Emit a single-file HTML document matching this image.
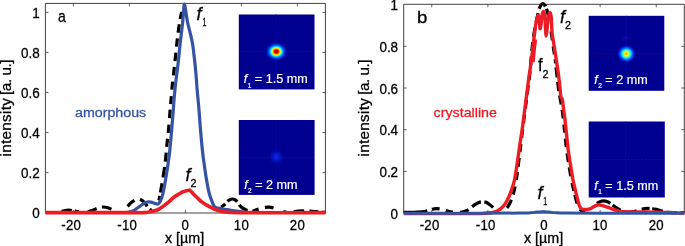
<!DOCTYPE html>
<html lang="en"><head><meta charset="utf-8"><title>Focal intensity profiles: amorphous vs crystalline</title>
<style>html,body{margin:0;padding:0;background:#fff;}body{width:685px;height:246px;overflow:hidden;}svg{display:block;}text{font-family:'Liberation Sans', sans-serif;stroke:#000;stroke-width:.3px;}.w{stroke:#fff;stroke-width:.2px;}.bl{stroke:#3553a4;}.rd{stroke:#ec1c24;}</style></head><body>
<svg width="685" height="246" viewBox="0 0 685 246" font-family='"Liberation Sans", sans-serif' fill="#000">
<rect width="685" height="246" fill="#ffffff"/>
<g id="panel-a">
<path d="M45.40 213 V3.40 H325.40 V213 Z" fill="none" stroke="#231f20" stroke-width="0.85"/>
<path d="M73.40 3.40v3.00M73.40 213v-3.00M129.40 3.40v3.00M129.40 213v-3.00M185.40 3.40v3.00M185.40 213v-3.00M241.40 3.40v3.00M241.40 213v-3.00M297.40 3.40v3.00M297.40 213v-3.00M45.40 172.64h3.00M325.40 172.64h-3.00M45.40 132.58h3.00M325.40 132.58h-3.00M45.40 92.52h3.00M325.40 92.52h-3.00M45.40 52.46h3.00M325.40 52.46h-3.00M45.40 12.40h3.00M325.40 12.40h-3.00" fill="none" stroke="#231f20" stroke-width="0.7"/>
<text transform="translate(71.20 229.85) scale(0.905 1)" text-anchor="middle" font-size="14.6" letter-spacing="0.28">-20</text>
<text transform="translate(127.20 229.85) scale(0.905 1)" text-anchor="middle" font-size="14.6" letter-spacing="0.28">-10</text>
<text transform="translate(185.40 229.85) scale(0.905 1)" text-anchor="middle" font-size="14.6" letter-spacing="0.28">0</text>
<text transform="translate(241.40 229.85) scale(0.905 1)" text-anchor="middle" font-size="14.6" letter-spacing="0.28">10</text>
<text transform="translate(297.40 229.85) scale(0.905 1)" text-anchor="middle" font-size="14.6" letter-spacing="0.28">20</text>
<text transform="translate(39.80 218.20) scale(0.915 1)" text-anchor="end" font-size="14.7">0</text>
<text transform="translate(39.80 178.14) scale(0.915 1)" text-anchor="end" font-size="14.7">0.2</text>
<text transform="translate(39.80 138.08) scale(0.915 1)" text-anchor="end" font-size="14.7">0.4</text>
<text transform="translate(39.80 98.02) scale(0.915 1)" text-anchor="end" font-size="14.7">0.6</text>
<text transform="translate(39.80 57.96) scale(0.915 1)" text-anchor="end" font-size="14.7">0.8</text>
<text transform="translate(39.80 17.90) scale(0.915 1)" text-anchor="end" font-size="14.7">1</text>
<g transform="translate(10.80 156.40) rotate(-90)" font-size="15.25"><text x="0" y="0" textLength="58.2" lengthAdjust="spacing">intensity</text><text x="96.90" y="0" text-anchor="end" textLength="35.4" lengthAdjust="spacing">[a. u.]</text></g>
<text x="184.6" y="242.6" text-anchor="middle" font-size="14.3">x [µm]</text>
<text transform="translate(58.0 21.6) scale(0.85 1)" font-size="16.5">a</text>
<text transform="translate(75 116.5) scale(1 0.9)" font-size="14.25" fill="#3553a4" class="bl">amorphous</text>
<rect x="238.80" y="14.50" width="75.70" height="74.90" fill="#000090"/>
<path d="M276.30 14.50V89.40" stroke="#0707a2" stroke-width="0.9" fill="none"/>

<path d="M238.80 51.50H314.50" stroke="#b00040" stroke-opacity="0.38" stroke-width="0.8" stroke-dasharray="2 1.5" fill="none"/>
<defs><radialGradient id="g1"><stop offset="0.000" stop-color="#8e0000" stop-opacity="1"/><stop offset="0.100" stop-color="#c00000" stop-opacity="1"/><stop offset="0.190" stop-color="#f01800" stop-opacity="1"/><stop offset="0.260" stop-color="#ff7800" stop-opacity="1"/><stop offset="0.330" stop-color="#fff000" stop-opacity="1"/><stop offset="0.410" stop-color="#86ff78" stop-opacity="1"/><stop offset="0.490" stop-color="#00e4ff" stop-opacity="1"/><stop offset="0.610" stop-color="#0068ff" stop-opacity="1"/><stop offset="0.780" stop-color="#0020d0" stop-opacity="0.8"/><stop offset="1.000" stop-color="#000090" stop-opacity="0"/></radialGradient></defs>
<ellipse cx="276.30" cy="51.50" rx="11.80" ry="10.00" fill="url(#g1)"/>
<text x="243.80" y="83.30" font-size="12.6" fill="#ffffff" class="w"><tspan font-style="italic">f</tspan><tspan font-size="6.5" dx="0.4" dy="4.2">1</tspan><tspan dy="-4.2"> = 1.5 mm</tspan></text>
<rect x="238.80" y="120.00" width="75.80" height="74.90" fill="#000090"/>
<path d="M276.30 120.00V194.90" stroke="#0707a2" stroke-width="0.9" fill="none"/>

<path d="M238.80 157.40H314.60" stroke="#b00040" stroke-opacity="0.38" stroke-width="0.8" stroke-dasharray="2 1.5" fill="none"/>
<defs><radialGradient id="g2"><stop offset="0.000" stop-color="#0a2cf4" stop-opacity="0.95"/><stop offset="0.350" stop-color="#0820dc" stop-opacity="0.8"/><stop offset="0.700" stop-color="#0410b4" stop-opacity="0.45"/><stop offset="1.000" stop-color="#000090" stop-opacity="0"/></radialGradient></defs>
<ellipse cx="276.30" cy="156.80" rx="8.50" ry="8.50" fill="url(#g2)"/>
<text x="244.20" y="188.90" font-size="12.6" fill="#ffffff" class="w"><tspan font-style="italic">f</tspan><tspan font-size="6.5" dx="0.4" dy="4.2">2</tspan><tspan dy="-4.2"> = 2 mm</tspan></text>
<path d="M45.40 212.40C47.00 212.38 52.23 212.48 55.00 212.30C57.77 212.12 59.75 211.65 62.00 211.30C64.25 210.95 66.33 210.22 68.50 210.20C70.67 210.18 72.42 210.83 75.00 211.20C77.58 211.57 81.17 212.52 84.00 212.40C86.83 212.28 89.67 211.23 92.00 210.50C94.33 209.77 96.17 208.58 98.00 208.00C99.83 207.42 101.33 207.03 103.00 207.00C104.67 206.97 106.17 207.25 108.00 207.80C109.83 208.35 112.00 209.60 114.00 210.30C116.00 211.00 118.33 212.02 120.00 212.00C121.67 211.98 122.70 211.18 124.00 210.20C125.30 209.22 126.63 207.33 127.80 206.10C128.97 204.87 129.95 203.72 131.00 202.80C132.05 201.88 133.10 201.23 134.10 200.60C135.10 199.97 136.02 199.22 137.00 199.00C137.98 198.78 138.85 198.83 140.00 199.30C141.15 199.77 142.82 200.80 143.90 201.80C144.98 202.80 145.65 204.13 146.50 205.30C147.35 206.47 148.17 208.02 149.00 208.80C149.83 209.58 150.67 210.03 151.50 210.00C152.33 209.97 153.22 209.35 154.00 208.60C154.78 207.85 155.53 206.63 156.20 205.50C156.87 204.37 157.48 202.97 158.00 201.80C158.52 200.63 158.77 200.80 159.30 198.50C159.83 196.20 160.43 192.42 161.20 188.00C161.97 183.58 163.15 177.00 163.90 172.00C164.65 167.00 165.17 162.83 165.70 158.00C166.23 153.17 166.60 148.00 167.10 143.00C167.60 138.00 168.25 132.83 168.70 128.00C169.15 123.17 169.42 118.58 169.80 114.00C170.18 109.42 170.58 105.33 171.00 100.50C171.42 95.67 171.82 89.83 172.30 85.00C172.78 80.17 173.38 76.17 173.90 71.50C174.42 66.83 174.88 61.92 175.40 57.00C175.92 52.08 176.47 46.67 177.00 42.00C177.53 37.33 178.00 33.17 178.60 29.00C179.20 24.83 179.93 20.25 180.60 17.00C181.27 13.75 181.98 11.25 182.60 9.50C183.22 7.75 184.02 7.00 184.30 6.50" fill="none" stroke="#000000" stroke-width="3.20" stroke-linejoin="round" stroke-linecap="butt" stroke-dasharray="0.00 16.17 10.64 2.65 4.47 8.89 9.29 5.53 9.97 18.57 9.24 5.95 10.12 3.83 2.95 11.47 4.89 3.35 9.54 5.48 10.72 5.44 9.05 5.82 8.04 5.94 8.14 6.72 8.53 5.52 8.03 6.32 8.14 6.35 8.55 5.93 8.44 5.93 8.15 5.84 8.59 5.27 7.17 999.00"/>
<path d="M217.00 208.60C217.42 208.53 218.77 208.47 219.50 208.20C220.23 207.93 220.75 207.45 221.40 207.00C222.05 206.55 222.75 206.02 223.40 205.50C224.05 204.98 224.58 204.60 225.30 203.90C226.02 203.20 226.92 202.02 227.70 201.30C228.48 200.58 229.25 199.98 230.00 199.60C230.75 199.22 231.43 199.02 232.20 199.00C232.97 198.98 233.80 199.10 234.60 199.50C235.40 199.90 236.20 200.48 237.00 201.40C237.80 202.32 238.65 204.03 239.40 205.00C240.15 205.97 240.70 206.53 241.50 207.20C242.30 207.87 243.22 208.43 244.20 209.00C245.18 209.57 246.35 210.20 247.40 210.60C248.45 211.00 249.48 211.33 250.50 211.40C251.52 211.47 252.17 211.40 253.50 211.00C254.83 210.60 256.75 209.57 258.50 209.00C260.25 208.43 262.25 207.90 264.00 207.60C265.75 207.30 267.33 207.10 269.00 207.20C270.67 207.30 272.17 207.63 274.00 208.20C275.83 208.77 278.00 209.93 280.00 210.60C282.00 211.27 284.00 211.98 286.00 212.20C288.00 212.42 290.00 212.07 292.00 211.90C294.00 211.73 296.00 211.38 298.00 211.20C300.00 211.02 302.00 210.83 304.00 210.80C306.00 210.77 308.00 210.87 310.00 211.00C312.00 211.13 314.17 211.40 316.00 211.60C317.83 211.80 319.43 212.07 321.00 212.20C322.57 212.33 324.67 212.37 325.40 212.40" fill="none" stroke="#000000" stroke-width="3.20" stroke-linejoin="round" stroke-linecap="butt" stroke-dasharray="0.00 4.55 5.23 3.26 11.32 3.68 10.22 5.12 6.52 6.39 8.80 10.24 3.57 7.13 10.45 5.30 8.75 3.52 999.00 0.00"/>
<path d="M45.40 212.50C51.17 212.50 67.57 212.50 80.00 212.50C92.43 212.50 111.83 212.53 120.00 212.50C128.17 212.47 126.72 212.63 129.00 212.30C131.28 211.97 132.45 211.10 133.70 210.50C134.95 209.90 135.53 209.35 136.50 208.70C137.47 208.05 138.58 207.25 139.50 206.60C140.42 205.95 141.18 205.37 142.00 204.80C142.82 204.23 143.67 203.63 144.40 203.20C145.13 202.77 145.75 202.43 146.40 202.20C147.05 201.97 147.57 201.82 148.30 201.80C149.03 201.78 149.98 201.95 150.80 202.10C151.62 202.25 152.42 202.45 153.20 202.70C153.98 202.95 154.77 203.37 155.50 203.60C156.23 203.83 157.02 204.17 157.60 204.10C158.18 204.03 158.60 203.58 159.00 203.20C159.40 202.82 159.65 202.45 160.00 201.80C160.35 201.15 160.77 200.12 161.10 199.30C161.43 198.48 161.63 198.12 162.00 196.90C162.37 195.68 162.87 193.98 163.30 192.00C163.73 190.02 164.12 187.67 164.60 185.00C165.08 182.33 165.65 179.33 166.20 176.00C166.75 172.67 167.37 168.67 167.90 165.00C168.43 161.33 168.97 157.67 169.40 154.00C169.83 150.33 170.15 146.67 170.50 143.00C170.85 139.33 171.18 135.67 171.50 132.00C171.82 128.33 172.10 124.67 172.40 121.00C172.70 117.33 173.02 113.67 173.30 110.00C173.58 106.33 173.80 102.67 174.10 99.00C174.40 95.33 174.72 91.67 175.10 88.00C175.48 84.33 175.95 80.67 176.40 77.00C176.85 73.33 177.37 69.67 177.80 66.00C178.23 62.33 178.62 58.67 179.00 55.00C179.38 51.33 179.70 47.67 180.10 44.00C180.50 40.33 180.97 36.67 181.40 33.00C181.83 29.33 182.35 25.50 182.70 22.00C183.05 18.50 183.23 14.97 183.50 12.00C183.77 9.03 183.95 4.53 184.30 4.20C184.65 3.87 185.07 7.03 185.60 10.00C186.13 12.97 186.73 18.17 187.50 22.00C188.27 25.83 189.35 29.33 190.20 33.00C191.05 36.67 191.97 40.33 192.60 44.00C193.23 47.67 193.57 51.33 194.00 55.00C194.43 58.67 194.83 62.33 195.20 66.00C195.57 69.67 195.90 73.33 196.20 77.00C196.50 80.67 196.70 84.33 197.00 88.00C197.30 91.67 197.67 95.33 198.00 99.00C198.33 102.67 198.55 104.50 199.00 110.00C199.45 115.50 200.07 124.67 200.70 132.00C201.33 139.33 202.20 148.50 202.80 154.00C203.40 159.50 203.78 161.33 204.30 165.00C204.82 168.67 205.43 173.00 205.90 176.00C206.37 179.00 206.70 180.77 207.10 183.00C207.50 185.23 207.87 187.40 208.30 189.40C208.73 191.40 209.17 193.22 209.70 195.00C210.23 196.78 210.90 198.52 211.50 200.10C212.10 201.68 212.67 203.30 213.30 204.50C213.93 205.70 214.35 206.67 215.30 207.30C216.25 207.93 217.38 207.97 219.00 208.30C220.62 208.63 223.00 208.97 225.00 209.30C227.00 209.63 229.00 209.98 231.00 210.30C233.00 210.62 234.83 210.90 237.00 211.20C239.17 211.50 241.50 211.88 244.00 212.10C246.50 212.32 246.00 212.43 252.00 212.50C258.00 212.57 267.77 212.50 280.00 212.50C292.23 212.50 317.83 212.50 325.40 212.50" fill="none" stroke="#3553a4" stroke-width="3.20" stroke-linejoin="round" stroke-linecap="butt"/>
<path d="M45.40 212.65C52.83 212.65 75.07 212.65 90.00 212.65C104.93 212.65 126.00 212.65 135.00 212.65C144.00 212.65 141.62 212.76 144.00 212.65C146.38 212.54 147.55 212.31 149.30 212.00C151.05 211.69 152.88 211.28 154.50 210.80C156.12 210.32 157.43 209.95 159.00 209.10C160.57 208.25 162.27 206.92 163.90 205.70C165.53 204.48 167.17 203.18 168.80 201.80C170.43 200.42 172.08 198.67 173.70 197.40C175.32 196.13 177.03 195.10 178.50 194.20C179.97 193.30 181.17 192.58 182.50 192.00C183.83 191.42 185.48 190.95 186.50 190.70C187.52 190.45 188.08 190.60 188.60 190.50C189.12 190.40 189.15 189.88 189.60 190.10C190.05 190.32 190.33 190.80 191.30 191.80C192.27 192.80 194.15 194.85 195.40 196.10C196.65 197.35 197.68 198.28 198.80 199.30C199.92 200.32 200.98 201.33 202.10 202.20C203.22 203.07 204.38 203.82 205.50 204.50C206.62 205.18 207.37 205.55 208.80 206.30C210.23 207.05 212.23 208.22 214.10 209.00C215.97 209.78 217.68 210.47 220.00 211.00C222.32 211.53 224.67 211.92 228.00 212.20C231.33 212.47 223.77 212.57 240.00 212.65C256.23 212.73 311.17 212.65 325.40 212.65" fill="none" stroke="#ec1c24" stroke-width="3.60" stroke-linejoin="round" stroke-linecap="butt"/>
<text transform="translate(196.60 20.20) scale(1.000 1)" font-size="18" font-style="italic">f</text><text transform="translate(202.50 26.20) scale(0.680 1)" font-size="10.2">1</text>
<text transform="translate(185.40 180.70) scale(1.000 1)" font-size="18" font-style="italic">f</text><text transform="translate(190.40 186.70) scale(1.000 1)" font-size="10.8">2</text>
</g>
<g id="panel-b">
<path d="M403.70 213 V4.30 H684.30 V213 Z" fill="none" stroke="#231f20" stroke-width="0.85"/>
<path d="M431.76 4.30v3.00M431.76 213v-3.00M487.88 4.30v3.00M487.88 213v-3.00M544.00 4.30v3.00M544.00 213v-3.00M600.12 4.30v3.00M600.12 213v-3.00M656.24 4.30v3.00M656.24 213v-3.00M403.70 171.40h3.00M684.30 171.40h-3.00M403.70 129.70h3.00M684.30 129.70h-3.00M403.70 88.00h3.00M684.30 88.00h-3.00M403.70 46.30h3.00M684.30 46.30h-3.00" fill="none" stroke="#231f20" stroke-width="0.7"/>
<text transform="translate(429.56 229.85) scale(0.905 1)" text-anchor="middle" font-size="14.6" letter-spacing="0.28">-20</text>
<text transform="translate(485.68 229.85) scale(0.905 1)" text-anchor="middle" font-size="14.6" letter-spacing="0.28">-10</text>
<text transform="translate(544.00 229.85) scale(0.905 1)" text-anchor="middle" font-size="14.6" letter-spacing="0.28">0</text>
<text transform="translate(600.12 229.85) scale(0.905 1)" text-anchor="middle" font-size="14.6" letter-spacing="0.28">10</text>
<text transform="translate(656.24 229.85) scale(0.905 1)" text-anchor="middle" font-size="14.6" letter-spacing="0.28">20</text>
<text transform="translate(398.10 218.60) scale(0.915 1)" text-anchor="end" font-size="14.7">0</text>
<text transform="translate(398.10 176.90) scale(0.915 1)" text-anchor="end" font-size="14.7">0.2</text>
<text transform="translate(398.10 135.20) scale(0.915 1)" text-anchor="end" font-size="14.7">0.4</text>
<text transform="translate(398.10 93.50) scale(0.915 1)" text-anchor="end" font-size="14.7">0.6</text>
<text transform="translate(398.10 51.80) scale(0.915 1)" text-anchor="end" font-size="14.7">0.8</text>
<text transform="translate(398.10 10.10) scale(0.915 1)" text-anchor="end" font-size="14.7">1</text>
<g transform="translate(369.00 156.40) rotate(-90)" font-size="15.25"><text x="0" y="0" textLength="58.2" lengthAdjust="spacing">intensity</text><text x="97.00" y="0" text-anchor="end" textLength="35.4" lengthAdjust="spacing">[a. u.]</text></g>
<text x="543.5" y="242.6" text-anchor="middle" font-size="14.3">x [µm]</text>
<text transform="translate(416.9 23.4) scale(1.07 1)" font-size="17.4">b</text>
<text transform="translate(433.6 116.5) scale(1 0.9)" font-size="14.25" fill="#ec1c24" class="rd">crystalline</text>
<rect x="588.70" y="15.80" width="75.60" height="75.00" fill="#000090"/>
<path d="M626.40 15.80V90.80" stroke="#0707a2" stroke-width="0.9" fill="none"/>
<defs><radialGradient id="g5"><stop offset="0" stop-color="#0c28d8" stop-opacity="0.5"/><stop offset="1" stop-color="#000090" stop-opacity="0"/></radialGradient></defs><ellipse cx="625.2" cy="38.4" rx="6.2" ry="4" fill="url(#g5)"/>
<path d="M588.70 53.80H664.30" stroke="#b00040" stroke-opacity="0.38" stroke-width="0.8" stroke-dasharray="2 1.5" fill="none"/>
<defs><radialGradient id="g3"><stop offset="0.000" stop-color="#ff8c00" stop-opacity="1"/><stop offset="0.090" stop-color="#ffc000" stop-opacity="1"/><stop offset="0.200" stop-color="#f4ff10" stop-opacity="1"/><stop offset="0.290" stop-color="#a0ff60" stop-opacity="1"/><stop offset="0.380" stop-color="#30ffd0" stop-opacity="1"/><stop offset="0.470" stop-color="#00c8ff" stop-opacity="1"/><stop offset="0.610" stop-color="#0060ff" stop-opacity="1"/><stop offset="0.800" stop-color="#0018cc" stop-opacity="0.7"/><stop offset="1.000" stop-color="#000090" stop-opacity="0"/></radialGradient></defs>
<ellipse cx="626.40" cy="53.80" rx="10.20" ry="9.80" fill="url(#g3)"/>
<text x="594.30" y="83.90" font-size="12.6" fill="#ffffff" class="w"><tspan font-style="italic">f</tspan><tspan font-size="6.5" dx="0.4" dy="4.2">2</tspan><tspan dy="-4.2"> = 2 mm</tspan></text>
<rect x="588.70" y="121.50" width="76.10" height="76.00" fill="#000090"/>
<path d="M625.60 121.50V197.50" stroke="#0707a2" stroke-width="0.9" fill="none"/>

<path d="M588.70 159.60H664.80" stroke="#b00040" stroke-opacity="0.38" stroke-width="0.8" stroke-dasharray="2 1.5" fill="none"/>
<text x="594.30" y="190.20" font-size="12.6" fill="#ffffff" class="w"><tspan font-style="italic">f</tspan><tspan font-size="6.5" dx="0.4" dy="4.2">1</tspan><tspan dy="-4.2"> = 1.5 mm</tspan></text>
<path d="M403.70 212.35C405.42 212.33 410.62 212.38 414.00 212.25C417.38 212.12 421.17 211.99 424.00 211.55C426.83 211.11 429.00 210.09 431.00 209.60C433.00 209.11 434.17 208.63 436.00 208.60C437.83 208.57 439.83 208.91 442.00 209.40C444.17 209.89 446.67 211.04 449.00 211.55C451.33 212.06 453.83 212.36 456.00 212.45C458.17 212.54 460.17 212.42 462.00 212.10C463.83 211.78 465.33 211.40 467.00 210.50C468.67 209.60 470.42 207.85 472.00 206.70C473.58 205.55 475.17 204.37 476.50 203.60C477.83 202.83 478.95 202.42 480.00 202.10C481.05 201.78 481.80 201.67 482.80 201.70C483.80 201.73 484.88 201.83 486.00 202.30C487.12 202.77 488.33 203.65 489.50 204.50C490.67 205.35 491.92 206.38 493.00 207.40C494.08 208.42 495.00 209.81 496.00 210.60C497.00 211.39 497.92 212.03 499.00 212.15C500.08 212.28 501.42 211.82 502.50 211.35C503.58 210.88 504.58 210.11 505.50 209.30C506.42 208.49 507.22 207.63 508.00 206.50C508.78 205.37 509.53 203.92 510.20 202.50C510.87 201.08 511.43 199.58 512.00 198.00C512.57 196.42 513.07 195.00 513.60 193.00C514.13 191.00 514.68 188.67 515.20 186.00C515.72 183.33 516.18 180.50 516.70 177.00C517.22 173.50 517.77 169.17 518.30 165.00C518.83 160.83 519.35 156.50 519.90 152.00C520.45 147.50 520.98 143.00 521.60 138.00C522.22 133.00 522.90 127.50 523.60 122.00C524.30 116.50 525.07 110.67 525.80 105.00C526.53 99.33 527.30 93.50 528.00 88.00C528.70 82.50 529.43 77.50 530.00 72.00C530.57 66.50 530.93 60.00 531.40 55.00C531.87 50.00 532.27 46.17 532.80 42.00C533.33 37.83 533.82 34.33 534.60 30.00C535.38 25.67 536.68 19.67 537.50 16.00C538.32 12.33 538.75 10.03 539.50 8.00C540.25 5.97 541.12 4.30 542.00 3.80C542.88 3.30 544.03 4.13 544.80 5.00C545.57 5.87 545.97 7.00 546.60 9.00C547.23 11.00 547.87 13.33 548.60 17.00C549.33 20.67 550.27 26.33 551.00 31.00C551.73 35.67 552.30 40.17 553.00 45.00C553.70 49.83 554.55 55.00 555.20 60.00C555.85 65.00 556.32 70.00 556.90 75.00C557.48 80.00 558.12 85.83 558.70 90.00C559.28 94.17 559.87 97.00 560.40 100.00C560.93 103.00 561.40 104.67 561.90 108.00C562.40 111.33 562.88 115.50 563.40 120.00C563.92 124.50 564.47 130.00 565.00 135.00C565.53 140.00 565.95 145.00 566.60 150.00C567.25 155.00 568.10 160.00 568.90 165.00C569.70 170.00 570.68 176.17 571.40 180.00C572.12 183.83 572.62 185.50 573.20 188.00C573.78 190.50 574.32 192.67 574.90 195.00C575.48 197.33 576.05 199.92 576.70 202.00C577.35 204.08 578.00 206.07 578.80 207.50C579.60 208.93 580.55 209.89 581.50 210.60C582.45 211.31 583.42 211.80 584.50 211.75C585.58 211.70 586.75 211.01 588.00 210.30C589.25 209.59 590.67 208.55 592.00 207.50C593.33 206.45 594.67 204.98 596.00 204.00C597.33 203.02 598.77 202.12 600.00 201.60C601.23 201.08 602.23 200.90 603.40 200.90C604.57 200.90 605.73 201.12 607.00 201.60C608.27 202.08 609.67 202.93 611.00 203.80C612.33 204.67 613.67 205.87 615.00 206.80C616.33 207.73 617.67 208.61 619.00 209.40C620.33 210.19 621.50 211.04 623.00 211.55C624.50 212.06 626.17 212.43 628.00 212.45C629.83 212.47 632.00 212.09 634.00 211.65C636.00 211.21 638.17 210.29 640.00 209.80C641.83 209.31 643.33 208.92 645.00 208.70C646.67 208.48 648.17 208.38 650.00 208.50C651.83 208.62 654.00 208.96 656.00 209.40C658.00 209.84 660.00 210.66 662.00 211.15C664.00 211.64 664.28 212.12 668.00 212.35C671.72 212.58 681.58 212.52 684.30 212.55" fill="none" stroke="#000000" stroke-width="3.20" stroke-linejoin="round" stroke-linecap="butt" stroke-dasharray="23.41 5.02 8.01 6.33 7.20 7.01 9.29 4.49 10.11 3.52 10.46 16.94 9.20 5.72 8.13 6.80 8.08 5.04 9.07 5.64 8.46 6.04 8.57 6.05 9.07 5.55 9.08 5.45 9.07 5.45 9.06 5.42 9.03 5.42 9.06 5.45 9.13 5.51 9.21 4.74 10.55 2.50 11.96 11.15 9.09 6.06 8.09 5.05 4.03 4.03 10.06 4.53 9.07 4.56 9.16 5.58 8.57 6.34 7.94 6.13 8.54 6.25 8.70 5.47 8.71 6.91 8.22 4.32 8.69 6.28 6.49 14.02 14.64 2.78 9.47 7.48 9.14 5.24 8.10 2.61 10.72 4.13 10.01 4.00 999.00 0.00"/>
<path d="M403.70 213.60C411.42 213.60 437.95 213.60 450.00 213.60C462.05 213.60 470.17 213.65 476.00 213.60C481.83 213.55 482.50 213.45 485.00 213.30C487.50 213.15 489.17 213.00 491.00 212.70C492.83 212.40 494.42 212.13 496.00 211.50C497.58 210.87 499.08 210.02 500.50 208.90C501.92 207.78 503.37 206.28 504.50 204.80C505.63 203.32 506.43 201.63 507.30 200.00C508.17 198.37 508.88 197.00 509.70 195.00C510.52 193.00 511.40 190.50 512.20 188.00C513.00 185.50 513.83 183.00 514.50 180.00C515.17 177.00 515.67 173.33 516.20 170.00C516.73 166.67 517.22 163.33 517.70 160.00C518.18 156.67 518.65 153.17 519.10 150.00C519.55 146.83 519.95 144.00 520.40 141.00C520.85 138.00 521.30 135.50 521.80 132.00C522.30 128.50 522.90 123.83 523.40 120.00C523.90 116.17 524.37 112.33 524.80 109.00C525.23 105.67 525.58 103.17 526.00 100.00C526.42 96.83 526.83 93.67 527.30 90.00C527.77 86.33 528.30 81.67 528.80 78.00C529.30 74.33 529.92 70.58 530.30 68.00C530.68 65.42 530.83 64.50 531.10 62.50C531.37 60.50 531.62 58.42 531.90 56.00C532.18 53.58 532.45 51.00 532.80 48.00C533.15 45.00 533.57 41.50 534.00 38.00C534.43 34.50 534.92 30.25 535.40 27.00C535.88 23.75 536.43 20.45 536.90 18.50C537.37 16.55 537.80 15.22 538.20 15.30C538.60 15.38 539.00 16.80 539.30 19.00C539.60 21.20 539.73 27.50 540.00 28.50C540.27 29.50 540.55 27.25 540.90 25.00C541.25 22.75 541.68 17.25 542.10 15.00C542.52 12.75 542.97 11.42 543.40 11.50C543.83 11.58 544.33 12.42 544.70 15.50C545.07 18.58 545.37 26.58 545.60 30.00C545.83 33.42 545.88 36.00 546.10 36.00C546.32 36.00 546.52 33.17 546.90 30.00C547.28 26.83 547.85 19.90 548.40 17.00C548.95 14.10 549.70 12.27 550.20 12.60C550.70 12.93 551.10 15.77 551.40 19.00C551.70 22.23 551.57 27.67 552.00 32.00C552.43 36.33 553.28 40.33 554.00 45.00C554.72 49.67 555.55 55.00 556.30 60.00C557.05 65.00 557.85 70.00 558.50 75.00C559.15 80.00 559.80 86.33 560.20 90.00C560.60 93.67 560.55 95.42 560.90 97.00C561.25 98.58 561.88 97.67 562.30 99.50C562.72 101.33 562.95 104.58 563.40 108.00C563.85 111.42 564.47 115.50 565.00 120.00C565.53 124.50 566.07 130.00 566.60 135.00C567.13 140.00 567.55 145.00 568.20 150.00C568.85 155.00 569.70 160.00 570.50 165.00C571.30 170.00 572.28 176.17 573.00 180.00C573.72 183.83 574.22 185.50 574.80 188.00C575.38 190.50 575.92 192.63 576.50 195.00C577.08 197.37 577.72 200.20 578.30 202.20C578.88 204.20 579.42 205.88 580.00 207.00C580.58 208.12 581.13 208.50 581.80 208.90C582.47 209.30 583.05 209.32 584.00 209.40C584.95 209.48 586.42 209.52 587.50 209.40C588.58 209.28 589.50 209.13 590.50 208.70C591.50 208.27 592.53 207.37 593.50 206.80C594.47 206.23 595.47 205.63 596.30 205.30C597.13 204.97 597.63 204.80 598.50 204.80C599.37 204.80 600.42 205.03 601.50 205.30C602.58 205.57 603.92 206.05 605.00 206.40C606.08 206.75 606.83 206.98 608.00 207.40C609.17 207.82 610.58 208.40 612.00 208.90C613.42 209.40 615.17 210.00 616.50 210.40C617.83 210.80 618.75 211.08 620.00 211.30C621.25 211.52 620.67 211.60 624.00 211.70C627.33 211.80 634.83 211.83 640.00 211.90C645.17 211.97 650.00 211.98 655.00 212.10C660.00 212.22 665.12 212.40 670.00 212.60C674.88 212.80 681.92 213.18 684.30 213.30" fill="none" stroke="#ec1c24" stroke-width="3.40" stroke-linejoin="round" stroke-linecap="butt"/>
<path d="M533.20 62.20C533.30 61.00 533.57 57.53 533.80 55.00C534.03 52.47 534.30 49.58 534.60 47.00C534.90 44.42 535.43 40.75 535.60 39.50" fill="none" stroke="#ec1c24" stroke-width="3.20" stroke-linejoin="round" stroke-linecap="butt"/>
<path d="M403.70 213.20C416.42 213.20 460.62 213.22 480.00 213.20C499.38 213.18 511.67 213.17 520.00 213.10C528.33 213.03 527.17 212.97 530.00 212.80C532.83 212.63 534.83 212.28 537.00 212.10C539.17 211.92 541.00 211.70 543.00 211.70C545.00 211.70 546.83 211.92 549.00 212.10C551.17 212.28 553.17 212.63 556.00 212.80C558.83 212.97 558.67 213.03 566.00 213.10C573.33 213.17 580.28 213.18 600.00 213.20C619.72 213.22 670.25 213.20 684.30 213.20" fill="none" stroke="#3553a4" stroke-width="3.00" stroke-linejoin="round" stroke-linecap="butt"/>
<text transform="translate(560.10 22.90) scale(1.000 1)" font-size="18" font-style="italic">f</text><text transform="translate(565.10 28.90) scale(1.000 1)" font-size="10.8">2</text>
<text transform="translate(538.00 71.20) scale(0.900 1)" font-size="18.4">f</text><text transform="translate(542.60 77.80) scale(1.000 1)" font-size="10.8">2</text>
<text transform="translate(537.40 199.00) scale(1.000 1)" font-size="18" font-style="italic">f</text><text transform="translate(543.30 205.00) scale(0.680 1)" font-size="10.2">1</text>
</g>
</svg></body></html>
